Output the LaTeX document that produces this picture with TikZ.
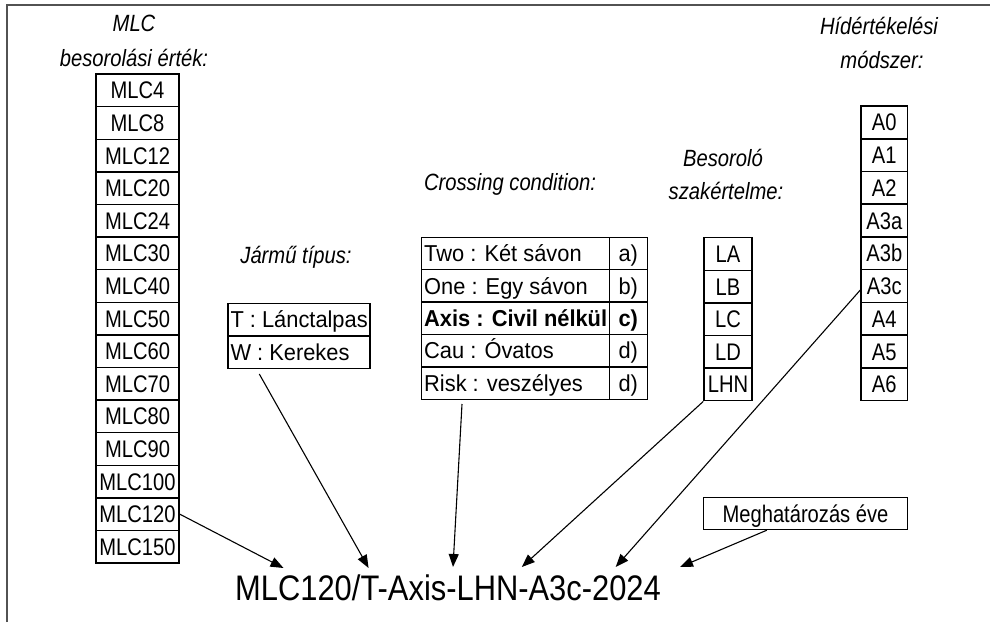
\documentclass[tikz,border=0pt]{standalone}
\usepackage{fontspec}
\setmainfont{Liberation Sans}
\newfontfamily\cellf[FakeStretch=0.84]{Liberation Sans}
\newfontfamily\ttlf[FakeStretch=0.86]{Liberation Sans}
\newfontfamily\tabf[FakeStretch=0.95]{Liberation Sans}
\newfontfamily\labf[FakeStretch=0.87]{Liberation Sans}
\usetikzlibrary{arrows.meta}
\newcommand\lft[2]{\makebox[#1][l]{#2}}
\newcommand\ctr[2]{\makebox[#1][c]{#2}}
\begin{document}
\begin{tikzpicture}[x=1pt,y=-1pt,
  cell/.style={draw, line width=1.4pt, inner sep=0pt, minimum height=32.6pt,
    text height=17pt, text depth=0pt, font=\cellf\fontsize{24}{26}\selectfont},
  lcell/.style={draw, line width=1.4pt, inner ysep=0pt, inner xsep=2.5pt, minimum height=32.4pt,
    text height=16.5pt, text depth=0pt, font=\tabf\fontsize{23}{25}\selectfont},
  ttl/.style={font=\ttlf\itshape\fontsize{23.5}{25}\selectfont, inner sep=0pt},
  arr/.style={line width=1.1pt, -{Triangle[length=13pt,width=10pt]}},
  frame/.style={line width=1.8pt, draw=black!68}
]
\useasboundingbox (0,0) rectangle (990,622);
\draw[frame] (7,622) -- (7,5) -- (990,5);

% MLC column
\node[ttl] (tmlc1) at (134,23) {MLC};
\node[ttl] (tmlc2) at (134,58) {besorolási érték:};
\foreach \t [count=\i from 0] in {4,8,12,20,24,30,40,50,60,70,80,90,100,120,150}
  \node[cell, minimum width=83pt] (mlc\t) at (137.5,{74+32.6*(\i+0.5)}) {MLC\t};

% Vehicle type
\node[ttl] (tveh) at (296,257) {Jármű típus:};
\node[lcell] (tbox) at (299,319.7) {\lft{137pt}{T : Lánctalpas}};
\node[lcell] (wbox) at (299,352.1) {\lft{137pt}{W : Kerekes}};

% Crossing condition
\node[ttl] (tcross) at (510,184) {Crossing condition:};
\foreach \n/\a/\b [count=\i from 0] in {two/Two : Két sávon/a),one/One : Egy sávon/b),axis/\textbf{Axis : Civil nélkül}/\textbf{c)},cau/Cau : Óvatos/d),risk/Risk : veszélyes/d)}{
  \node[lcell] (\n) at (515.5,{237.3+32.4*(\i+0.5)}) {\lft{182.6pt}{\a}};
  \node[lcell] (\n l) at (628.3,{237.3+32.4*(\i+0.5)}) {\ctr{33pt}{\b}};
}

% Expertise
\node[ttl] (tbes1) at (723,158) {Besoroló};
\node[ttl] (tbes2) at (726,191) {szakértelme:};
\foreach \t [count=\i from 0] in {LA,LB,LC,LD,LHN}
  \node[cell, minimum width=48pt] (\t) at (728,{237.7+32.6*(\i+0.5)}) {\t};

% Bridge evaluation method
\node[ttl] (thid1) at (879,26) {Hídértékelési};
\node[ttl] (thid2) at (882,60) {módszer:};
\foreach \t [count=\i from 0] in {A0,A1,A2,A3a,A3b,A3c,A4,A5,A6}
  \node[cell, minimum width=46.7pt] (\t) at (884.3,{106+32.74*(\i+0.5)}) {\t};

% Year
\node[cell, minimum width=204pt, minimum height=32pt] (meg) at (805.5,513.5) {Meghatározás éve};

% Result code
\node[anchor=base west, inner sep=0pt, font=\labf\fontsize{35.5}{40}\selectfont] (code) at (235,600) {MLC120/T-Axis-LHN-A3c-2024};

\coordinate (tip1) at (283.5,568);
\coordinate (tip2) at (368.6,568);
\coordinate (tip3) at (453,567);
\coordinate (tip4) at (521.8,567);
\coordinate (tip5) at (615.7,567);
\coordinate (tip6) at (680,567);

\draw[arr] (mlc120.east) -- (tip1);
\draw[arr] ([shift={(32,5)}]wbox.south west) -- (tip2);
\draw[arr] ([shift={(41,4)}]risk.south west) -- (tip3);
\draw[arr] (LHN.south west) -- (tip4);
\draw[arr] ([shift={(0,4)}]A3c.west) -- (tip5);
\draw[arr] ([shift={(64,0)}]meg.south west) -- (tip6);
\end{tikzpicture}
\end{document}
